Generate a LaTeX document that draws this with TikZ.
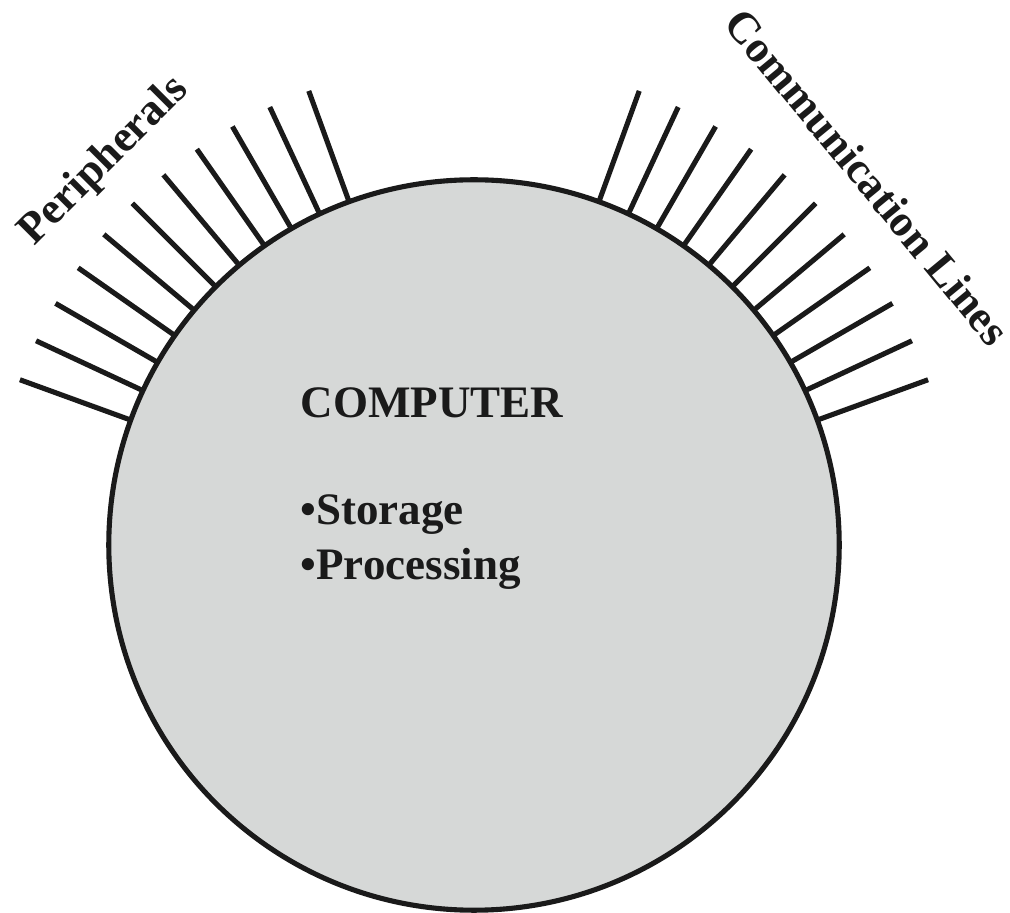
\documentclass[tikz,border=0pt]{standalone}
\usepackage{fontspec}
\setmainfont{Liberation Serif}
\definecolor{discfill}{RGB}{214,216,215}
\definecolor{ink}{RGB}{26,26,26}
\begin{document}
\begin{tikzpicture}[x=0.01cm,y=0.01cm,
  disc/.style={circle, draw=ink, fill=discfill, line width=1.45pt,
    minimum size=7.3cm, inner sep=0pt, outer sep=0pt},
  spoke/.style={draw=ink, line width=1.45pt},
  tag/.style={font=\fontsize{12.6}{15}\selectfont\bfseries, text=ink,
    inner sep=0pt, anchor=base west},
  body/.style={font=\fontsize{12.8}{15}\selectfont\bfseries, text=ink,
    inner sep=0pt, anchor=base west}]
\useasboundingbox (-474,-368) rectangle (536,545);
% the computer itself
\node[disc] (computer) at (0,0) {};
% peripheral connections on the upper left
\foreach \a in {110,115,...,160}
  \draw[spoke] (computer.\a) -- ++(\a:118) coordinate (per\a);
% communication lines on the upper right
\foreach \a in {20,25,...,70}
  \draw[spoke] (computer.\a) -- ++(\a:118) coordinate (com\a);
% texts
\node[body] (title) at (-174,127) {COMPUTER};
\node[body] (storage) at (-174,20) {•Storage};
\node[body] (processing) at (-174,-35) {•Processing};
\node[tag, rotate=45] (periph) at (-440,298) {Peripherals};
\node[tag, rotate=-50.5] (comm) at (248,521) {Communication Lines};
\end{tikzpicture}
\end{document}
